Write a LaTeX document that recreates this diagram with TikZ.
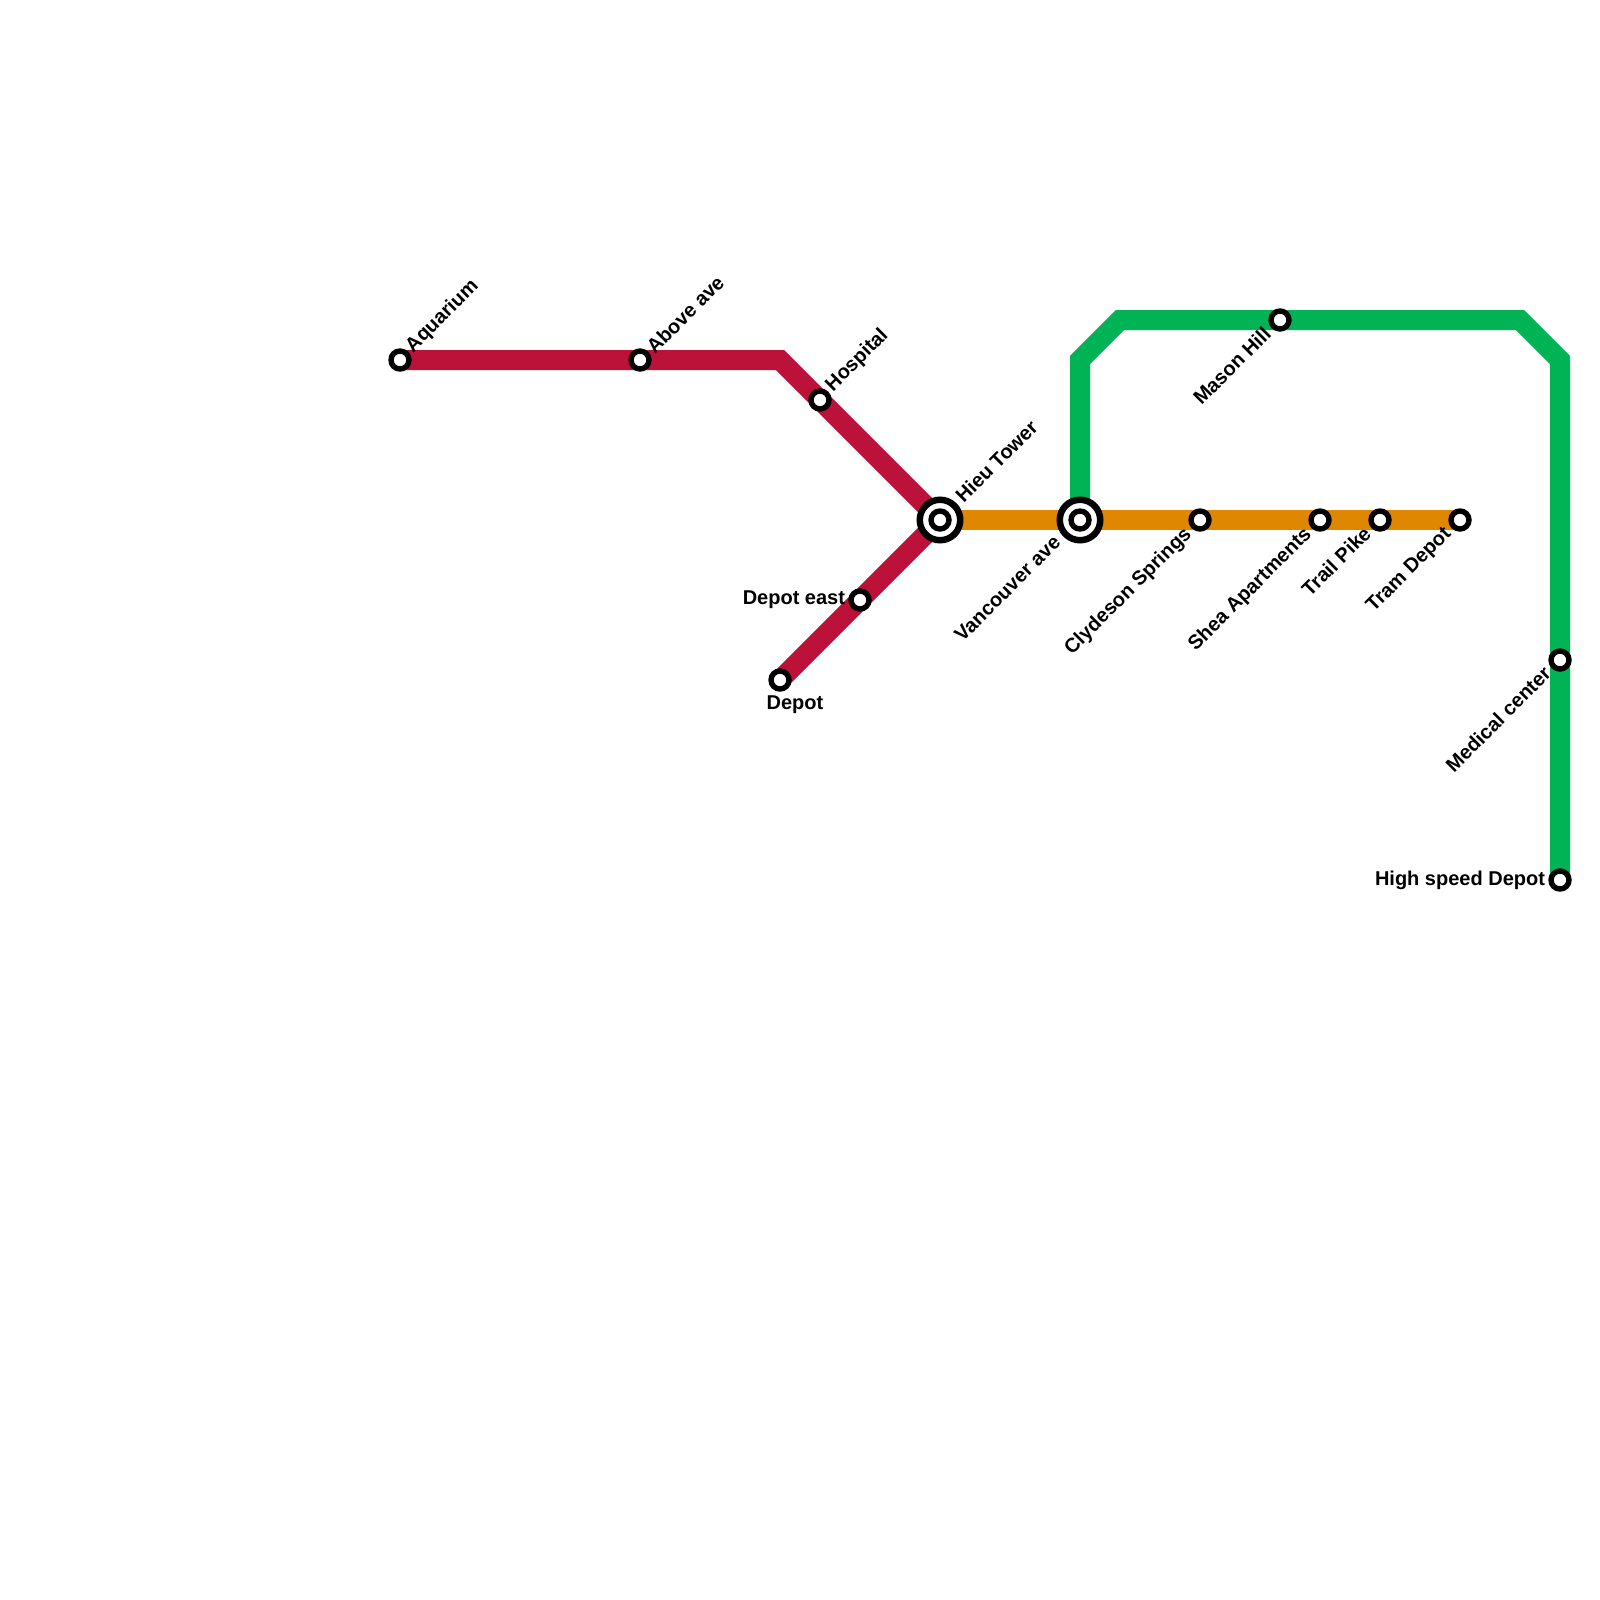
\documentclass[tikz,border=0pt]{standalone}
\usepackage{fontspec}
\setmainfont{Liberation Sans}
\definecolor{redline}{RGB}{188,18,58}
\definecolor{orangeline}{RGB}{223,135,0}
\definecolor{greenline}{RGB}{0,179,84}
\tikzset{
  metro/.style={line width=20pt,line join=miter,line cap=butt},
  stop/.style={circle,draw=black,fill=white,line width=5.4pt,minimum size=18pt,inner sep=0pt,outer sep=0pt},
  hubring/.style={circle,draw=black,fill=white,line width=6.5pt,minimum size=40.5pt,inner sep=0pt,outer sep=0pt},
  lbl/.style={font=\bfseries\fontsize{20}{22}\selectfont,text=black,inner sep=0pt,outer sep=0pt},
  lne/.style={lbl,rotate=45,anchor=south west},
  lsw/.style={lbl,rotate=45,anchor=north east},
  lw/.style={lbl,anchor=east}
}
\begin{document}
\begin{tikzpicture}[x=1pt,y=-1pt]
\useasboundingbox[fill=white] (0,0) rectangle (1600,1600);
\coordinate (aq) at (400,360);
\coordinate (ab) at (640,360);
\coordinate (b1) at (780,360);
\coordinate (ho) at (820,400);
\coordinate (hi) at (940,520);
\coordinate (va) at (1080,520);
\coordinate (cl) at (1200,520);
\coordinate (sh) at (1320,520);
\coordinate (tr) at (1380,520);
\coordinate (tm) at (1460,520);
\coordinate (de) at (860,600);
\coordinate (dp) at (780,680);
\coordinate (g1) at (1080,360);
\coordinate (g2) at (1120,320);
\coordinate (ma) at (1280,320);
\coordinate (g3) at (1520,320);
\coordinate (g4) at (1560,360);
\coordinate (me) at (1560,660);
\coordinate (hs) at (1560,880);

\draw[metro,redline] (aq) -- (ab) -- (b1) -- (ho) -- (hi) -- (de) -- (dp);
\draw[metro,greenline] (va) -- (g1) -- (g2) -- (ma) -- (g3) -- (g4) -- (me) -- (hs);
\draw[metro,orangeline] (hi) -- (va) -- (cl) -- (sh) -- (tr) -- (tm);

\node[stop] (naq) at (aq) {};
\node[stop] (nab) at (ab) {};
\node[stop] (nho) at (ho) {};
\node[hubring] (nhi) at (hi) {};
\node[stop] (nhi2) at (hi) {};
\node[hubring] (nva) at (va) {};
\node[stop] (nva2) at (va) {};
\node[stop] (ncl) at (cl) {};
\node[stop] (nsh) at (sh) {};
\node[stop] (ntr) at (tr) {};
\node[stop] (ntm) at (tm) {};
\node[stop] (nde) at (de) {};
\node[stop] (ndp) at (dp) {};
\node[stop] (nma) at (ma) {};
\node[stop] (nme) at (me) {};
\node[stop] (nhs) at (hs) {};

\node[lne] (taq) at (416,356) {Aquarium};
\node[lne] (tab) at (655,355) {Above ave};
\node[lne] (tho) at (836,395) {Hospital};
\node[lne] (thi) at (964,504) {Hieu Tower};
\node[lsw] (tva) at (1052,534) {Vancouver ave};
\node[lsw] (tcl) at (1182,525) {Clydeson Springs};
\node[lsw] (tsh) at (1302,525) {Shea Apartments};
\node[lsw] (ttr) at (1362,525) {Trail Pike};
\node[lsw] (ttm) at (1442,525) {Tram Depot};
\node[lsw] (tma) at (1262,325) {Mason Hill};
\node[lsw] (tme) at (1542,665) {Medical center};
\node[lw] (tde) at (845,600) {Depot east};
\node[lw] (ths) at (1545,880) {High speed Depot};
\node[lbl,anchor=north] (tdp) at (795,696) {Depot};
\end{tikzpicture}
\end{document}
